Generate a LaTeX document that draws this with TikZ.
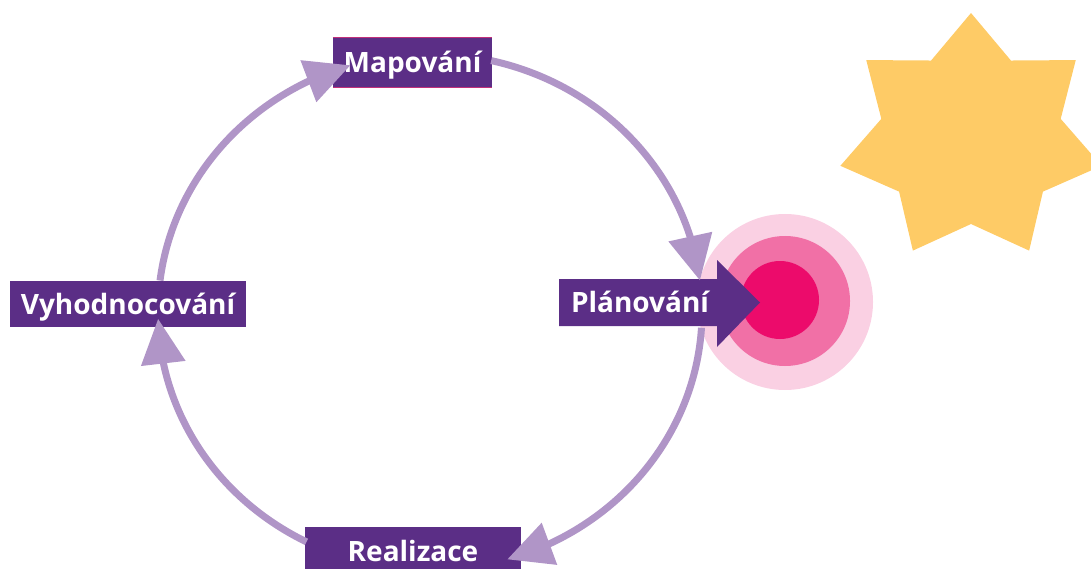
\documentclass[tikz,border=0pt]{standalone}
\usepackage{fontspec}
\setmainfont{Open Sans}
\usetikzlibrary{arrows.meta,calc}
\definecolor{arcc}{HTML}{B095C7}
\definecolor{boxp}{HTML}{5B2E86}
\definecolor{pkA}{HTML}{FAD0E3}
\definecolor{pkB}{HTML}{F170A6}
\definecolor{pkC}{HTML}{EC0B6B}
\definecolor{starc}{HTML}{FECB66}
\definecolor{edgec}{HTML}{C2307A}
\tikzset{
  lbl/.style={fill=boxp, text=white, font=\fontsize{28}{32}\selectfont\bfseries,
    inner sep=0pt, text height=20pt, text depth=0pt},
  cyc/.style={draw=arcc, line width=7pt, -{Triangle[length=45pt,width=43pt]}},
}
\begin{document}
\begin{tikzpicture}[x=1pt,y=-1pt]
\useasboundingbox (0,0) rectangle (1091,569);
% target circles
\fill[pkA] (785,302) circle (88);
\fill[pkB] (785,301) circle (65);
\fill[pkC] (780,300) circle (39);
% star
\coordinate (sc) at (971,138);
\foreach \i in {0,...,6}{
  \coordinate (so\i) at ($(sc)+({-90+\i*360/7}:134 and 125)$);
  \coordinate (si\i) at ($(sc)+({-90+\i*360/7+180/7}:92 and 86)$);
}
\fill[starc] (so0) -- (si0) -- (so1) -- (si1) -- (so2) -- (si2) -- (so3) -- (si3)
  -- (so4) -- (si4) -- (so5) -- (si5) -- (so6) -- (si6) -- cycle;
% planning arrow shape
\fill[boxp] (559,279) -- (717,279) -- (717,260) -- (760,302.5) -- (717,347) -- (717,326) -- (559,326) -- cycle;
\node[lbl, fill=none] (plan) at (640,302.5) {Plánování};
% boxes
\node[lbl, minimum width=159pt, minimum height=49pt] (map) at (412.5,62.5) {Mapování};
\draw[edgec, line width=1.2pt] (map.north west) -- (map.north east) (map.south west) -- (map.south east);
\node[lbl, minimum width=236pt, minimum height=46pt] (vyh) at (128,304) {Vyhodnocování};
\node[lbl, minimum width=216pt, minimum height=48pt] (real) at (413,551) {Realizace};
% cycle arcs
\coordinate (c) at (430,312);
\coordinate (a1) at ($(c)+(187:272 and 258)$);
\coordinate (t1) at ($(c)+(253:272 and 258)$);
\coordinate (a2) at ($(c)+(283:272 and 258)$);
\coordinate (t2) at ($(c)+(353:272 and 258)$);
\coordinate (a3) at ($(c)+(3.5:272 and 258)$);
\coordinate (t3) at ($(c)+(73.5:272 and 258)$);
\coordinate (a4) at ($(c)+(117:272 and 258)$);
\coordinate (t4) at ($(c)+(178.5:272 and 258)$);
\draw[cyc] (a1) arc[start angle=187, end angle=243.5, x radius=272, y radius=258] -- (t1);
\draw[cyc] (a2) arc[start angle=283, end angle=343.5, x radius=272, y radius=258] -- (t2);
\draw[cyc] (a3) arc[start angle=3.5, end angle=64, x radius=272, y radius=258] -- (t3);
\draw[cyc] (a4) arc[start angle=117, end angle=169, x radius=272, y radius=258] -- (t4);
\end{tikzpicture}
\end{document}
